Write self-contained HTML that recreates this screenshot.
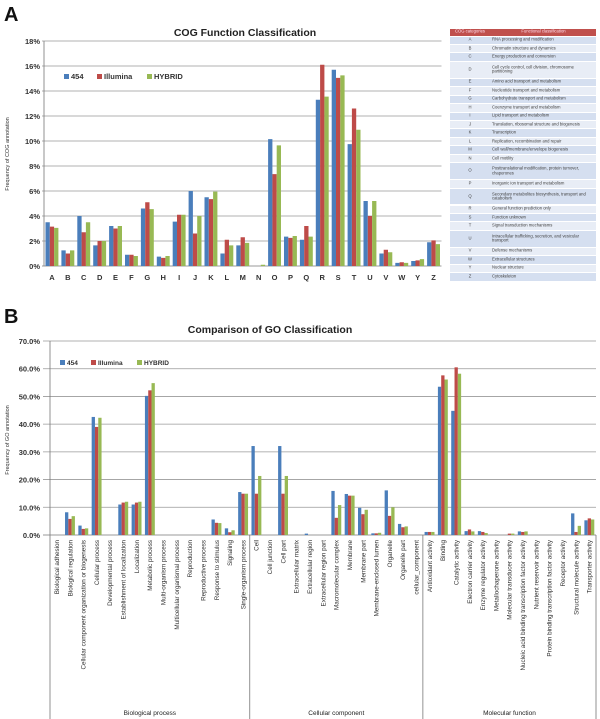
<!DOCTYPE html>
<html><head><meta charset="utf-8"><style>
body{margin:0;background:#fff;width:600px;height:719px;overflow:hidden;font-family:"Liberation Sans",sans-serif}
svg{position:absolute;left:0;top:0}
#tbl{position:absolute;left:450px;top:29px;width:146px;height:252px;font-size:4.2px;color:#444}
#tbl div.r{position:absolute;left:0;width:146px;border-bottom:0.6px solid #fff;box-sizing:border-box}
#tbl span.c,#tbl span.f{position:absolute;top:50%;transform:translateY(-50%);line-height:4.6px}
#tbl span.c{left:0;width:40px;text-align:center}
#tbl span.f{left:42px;width:103px}
</style></head><body>
<svg id="s" width="600" height="719"></svg>
<div id="tbl"></div>
<script>
const cogCats=["A","B","C","D","E","F","G","H","I","J","K","L","M","N","O","P","Q","R","S","T","U","V","W","Y","Z"];
const cog454=[3.5,1.25,4.0,1.65,3.2,0.9,4.6,0.75,3.55,6.0,5.5,1.0,1.65,0,10.15,2.35,2.1,13.3,15.7,9.75,5.2,1.0,0.25,0.4,1.9];
const cogIll=[3.15,1.0,2.7,2.0,3.0,0.9,5.1,0.65,4.1,2.6,5.35,2.1,2.3,0,7.35,2.25,3.2,16.1,15.05,12.6,4.0,1.3,0.3,0.45,2.05];
const cogHyb=[3.05,1.25,3.5,2.0,3.2,0.8,4.55,0.8,4.1,4.0,5.95,1.65,1.85,0.1,9.65,2.4,2.35,13.55,15.25,10.9,5.2,1.1,0.25,0.55,1.75];
const cogTicks=["0%","2%","4%","6%","8%","10%","12%","14%","16%","18%"];
const goCats=["Biological adhesion","Biological regulation","Cellular component organization or biogenesis","Cellular process","Developmental process","Establishment of localization","Localization","Metabolic process","Multi-organism process","Multicellular organismal process","Reproduction","Reproductive process","Response to stimulus","Signaling","Single-organism process","Cell","Cell junction","Cell part","Extracellular matrix","Extracellular region","Extracellular region part","Macromolecular complex","Membrane","Membrane part","Membrane-enclosed lumen","Organelle","Organelle part","cellular_component","Antioxidant activity","Binding","Catalytic activity","Electron carrier activity","Enzyme regulator activity","Metallochaperone activity","Molecular transducer activity","Nucleic acid binding transcription factor activity","Nutrient reservoir activity","Protein binding transcription factor activity","Receptor activity","Structural molecule activity","Transporter activity"];
const go454=[0,8.2,3.4,42.6,0,11,11,50.2,0,0,0,0,5.6,2.4,15.5,32.1,0,32.1,0,0.5,0,15.9,14.8,9.8,0.6,16.1,4,0,1.1,53.5,44.8,1.4,1.4,0,0,1.3,0,0,0,7.8,5.3];
const goIll=[0,5.8,2.2,39,0,11.7,11.7,52.2,0,0,0,0,4.4,1.0,14.9,14.9,0,14.9,0,0,0,6.2,14.2,7.5,0.6,6.9,2.8,0,1.1,57.6,60.5,2.0,1.1,0,0.5,1.1,0,0,0,1.1,6];
const goHyb=[0,6.8,2.4,42.3,0,12,12,54.8,0,0,0,0,4.3,1.7,14.9,21.3,0,21.3,0,0,0,10.8,14.2,9.1,0.8,10,3.1,0,1.1,56.1,58.2,1.3,0.7,0,0.5,1.3,0,0,0,3.3,5.6];
const goTicks=["0.0%","10.0%","20.0%","30.0%","40.0%","50.0%","60.0%","70.0%"];
const goGroups=["Biological process","Cellular component","Molecular function"];
const goGroupSizes=[15,13,13];
const tableRows=[["A","RNA processing and modification"],["B","Chromatin structure and dynamics"],["C","Energy production and conversion"],["D","Cell cycle control, cell division, chromosome partitioning"],["E","Amino acid transport and metabolism"],["F","Nucleotide transport and metabolism"],["G","Carbohydrate transport and metabolism"],["H","Coenzyme transport and metabolism"],["I","Lipid transport and metabolism"],["J","Translation, ribosomal structure and biogenesis"],["K","Transcription"],["L","Replication, recombination and repair"],["M","Cell wall/membrane/envelope biogenesis"],["N","Cell motility"],["O","Posttranslational modification, protein turnover, chaperones"],["P","Inorganic ion transport and metabolism"],["Q","Secondary metabolites biosynthesis, transport and catabolism"],["R","General function prediction only"],["S","Function unknown"],["T","Signal transduction mechanisms"],["U","Intracellular trafficking, secretion, and vesicular transport"],["V","Defense mechanisms"],["W","Extracellular structures"],["Y","Nuclear structure"],["Z","Cytoskeleton"]];
const colors=["#4a7ebb","#be4b48","#98b954"];
const NS="http://www.w3.org/2000/svg";const S=document.getElementById('s');
function mk(t,a,txt,p){const e=document.createElementNS(NS,t);for(const k in a)e.setAttribute(k,a[k]);if(txt!=null)e.textContent=txt;(p||S).appendChild(e);return e;}
let e;
e=mk('text',{x:4,y:21,'font-size':20,'font-weight':'bold',fill:'#111'},'A');
e=mk('text',{x:4,y:323,'font-size':20,'font-weight':'bold',fill:'#111'},'B');
e=mk('text',{x:245,y:36,'font-size':10.5,'font-weight':'bold','text-anchor':'middle',fill:'#222'},'COG Function Classification');
e=mk('text',{x:270,y:333,'font-size':10.5,'font-weight':'bold','text-anchor':'middle',fill:'#222'},'Comparison of GO Classification');
const A={l:44,r:441.5,t:41,b:266,max:18};
const ay=v=>A.b-(v/A.max)*(A.b-A.t);const aw=(A.r-A.l)/cogCats.length;
cogTicks.forEach((t,i)=>{const y=ay(i*2);
 e=mk('line',{x1:A.l-2,x2:A.r,y1:y,y2:y,stroke:i?'#999':'#777','stroke-width':0.8});
 e=mk('text',{x:A.l-4,y:y+3,'font-size':7.5,'font-weight':'bold','text-anchor':'end',fill:'#333'},t);});
e=mk('line',{x1:A.l,x2:A.l,y1:A.t,y2:A.b,stroke:'#777','stroke-width':0.8});
const aser=[cog454,cogIll,cogHyb];const abw=4.3;
cogCats.forEach((c,i)=>{const cx=A.l+aw*(i+0.5);
 aser.forEach((s,k)=>{const y=ay(s[i]);e=mk('rect',{x:cx-1.5*abw+k*abw,y:y,width:abw,height:A.b-y,fill:colors[k]});});
 e=mk('text',{x:cx,y:280,'font-size':7.5,'font-weight':'bold','text-anchor':'middle',fill:'#333'},c);});
e=mk('text',{transform:'translate(9,154) rotate(-90)','font-size':5.5,'text-anchor':'middle',fill:'#333'},'Frequency of COG annotation');
const legN=["454","Illumina","HYBRID"];
[[64,79,[0,33,83]],[60,365,[0,31,77]]].forEach(([lx,ly,offs],j)=>{legN.forEach((n,k)=>{
 e=mk('rect',{x:lx+offs[k],y:ly-5,width:5,height:5,fill:colors[k]});
 e=mk('text',{x:lx+offs[k]+7,y:ly,'font-size':j?6.5:7.5,'font-weight':'bold',fill:'#333'},n);});});
const B={l:50,r:596,t:341,b:535,max:70};
const by=v=>B.b-(v/B.max)*(B.b-B.t);const bw=(B.r-B.l)/goCats.length;
goTicks.forEach((t,i)=>{const y=by(i*10);
 e=mk('line',{x1:B.l-7,x2:B.r,y1:y,y2:y,stroke:i?'#999':'#777','stroke-width':0.8});
 e=mk('text',{x:B.l-10,y:y+3,'font-size':7.5,'font-weight':'bold','text-anchor':'end',fill:'#333'},t);});
const bser=[go454,goIll,goHyb];const bbw=3.3;
goCats.forEach((c,i)=>{const cx=B.l+bw*(i+0.5);
 bser.forEach((s,k)=>{const y=by(s[i]);e=mk('rect',{x:cx-1.5*bbw+k*bbw,y:y,width:bbw,height:B.b-y,fill:colors[k]});});
 e=mk('text',{transform:'translate('+(cx+2.3)+',540) rotate(-90)','font-size':6.3,'text-anchor':'end',fill:'#333'},c);});
let acc=0;goGroupSizes.forEach((n,g)=>{const x0=B.l+acc*bw;
 e=mk('line',{x1:x0,x2:x0,y1:g?B.b:B.t,y2:719,stroke:'#777','stroke-width':0.8});
 e=mk('text',{x:x0+n*bw/2,y:715,'font-size':6.5,'text-anchor':'middle',fill:'#222'},goGroups[g]);
 acc+=n;});
e=mk('line',{x1:B.r,x2:B.r,y1:B.b,y2:719,stroke:'#777','stroke-width':0.8});
e=mk('text',{transform:'translate(9,440) rotate(-90)','font-size':5.5,'text-anchor':'middle',fill:'#333'},'Frequency of GO annotation');
const T=document.getElementById('tbl');
function row(y0,h,bg,c,f,col,name){const d=document.createElement('div');d.className='r';d.style.top=y0+'px';d.style.height=h+'px';d.style.background=bg;d.style.color=col;
 d.innerHTML='<span class="c">'+c+'</span><span class="f">'+f+'</span>';
 
 
 T.appendChild(d);}
row(0,7.5,'#c0504d','COG categories','<span style="display:block;text-align:center">Functional classification</span>','#fde','table-header');
let rowY=7.5;const unit=8.45;
tableRows.forEach((r,i)=>{const h=(r[1].length>48?2:1)*unit;row(rowY,h,i%2?'#e8edf6':'#d5dff0',r[0],r[1],'#444','table-row-'+r[0]);rowY+=h;});
</script>
</body></html>
